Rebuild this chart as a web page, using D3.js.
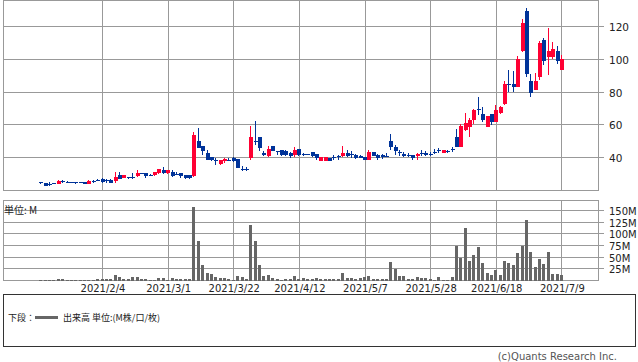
<!DOCTYPE html>
<html><head><meta charset="utf-8">
<script src="https://cdn.jsdelivr.net/npm/d3@7"></script>
<style>
body{margin:0;background:#fff;}
svg{display:block;}
text{font-family:"DejaVu Sans",Verdana,sans-serif;}
.jp{font-family:"Noto Sans CJK JP","DejaVu Sans",sans-serif;}
</style>
</head><body>
<svg id="c" width="638" height="362"></svg>
<script>
const dates = [
"2021/1/15","2021/1/18","2021/1/19","2021/1/20","2021/1/21","2021/1/22","2021/1/25","2021/1/26","2021/1/27","2021/1/28","2021/1/29",
"2021/2/1","2021/2/2","2021/2/3","2021/2/4","2021/2/5","2021/2/8","2021/2/9","2021/2/10","2021/2/12","2021/2/15","2021/2/16","2021/2/17","2021/2/18","2021/2/19","2021/2/22","2021/2/24","2021/2/25","2021/2/26",
"2021/3/1","2021/3/2","2021/3/3","2021/3/4","2021/3/5","2021/3/8","2021/3/9","2021/3/10","2021/3/11","2021/3/12","2021/3/15","2021/3/16","2021/3/17","2021/3/18","2021/3/19","2021/3/22","2021/3/23","2021/3/24","2021/3/25","2021/3/26","2021/3/29","2021/3/30","2021/3/31",
"2021/4/1","2021/4/2","2021/4/5","2021/4/6","2021/4/7","2021/4/8","2021/4/9","2021/4/12","2021/4/13","2021/4/14","2021/4/15","2021/4/16","2021/4/19","2021/4/20","2021/4/21","2021/4/22","2021/4/23","2021/4/26","2021/4/27","2021/4/28","2021/4/30",
"2021/5/6","2021/5/7","2021/5/10","2021/5/11","2021/5/12","2021/5/13","2021/5/14","2021/5/17","2021/5/18","2021/5/19","2021/5/20","2021/5/21","2021/5/24","2021/5/25","2021/5/26","2021/5/27","2021/5/28","2021/5/31",
"2021/6/1","2021/6/2","2021/6/3","2021/6/4","2021/6/7","2021/6/8","2021/6/9","2021/6/10","2021/6/11","2021/6/14","2021/6/15","2021/6/16","2021/6/17","2021/6/18","2021/6/21","2021/6/22","2021/6/23","2021/6/24","2021/6/25","2021/6/28","2021/6/29","2021/6/30",
"2021/7/1","2021/7/2","2021/7/5","2021/7/6","2021/7/7","2021/7/8","2021/7/9"];

const open = [24.9,24.4,23.6,24.2,24.0,25.5,25.0,24.9,24.8,24.8,24.8,
24.0,25.6,26.3,27.1,26.1,26.5,25.4,29.1,27.5,27.9,28.0,28.5,30.3,30.3,29.2,29.3,30.3,32.1,
30.3,31.3,30.0,30.3,29.1,29.1,28.5,49.8,46.9,43.0,40.1,38.4,36.3,37.6,38.6,40.0,39.0,32.9,32.9,39.6,49.9,52.3,43.0,
41.2,46.9,44.1,44.4,44.0,43.0,41.4,45.1,42.2,42.2,43.2,42.0,38.0,38.0,39.6,40.2,41.0,41.0,43.0,41.9,41.8,
41.2,40.4,38.6,43.2,41.8,41.4,41.0,49.9,46.5,43.2,42.0,41.6,41.4,41.0,43.0,43.0,42.4,43.4,
44.6,42.8,44.2,45.0,52.5,46.5,57.0,58.6,62.6,69.7,66.3,58.6,66.3,61.6,67.1,72.9,84.8,84.6,83.0,104.8,129.7,86.7,
81.4,89.1,111.5,101.4,101.4,104.8,93.7];
const high = [25.0,24.6,25.0,24.4,26.2,26.1,25.8,25.0,25.0,25.1,24.9,
26.1,26.0,27.1,27.3,27.0,26.7,30.9,30.9,29.3,28.3,30.3,32.1,30.7,30.5,29.9,31.3,32.9,33.9,
32.3,32.1,31.1,30.5,29.3,29.3,55.6,58.0,47.3,44.8,40.3,40.0,38.4,39.8,39.4,40.2,39.2,35.0,33.9,59.0,62.0,52.5,43.8,
46.9,47.2,44.2,44.6,44.4,43.2,46.3,45.3,42.6,42.4,43.4,42.2,40.6,40.6,39.8,41.4,41.4,46.9,44.6,43.8,42.0,
41.6,40.6,44.6,43.4,42.0,42.0,42.6,54.1,47.9,44.6,43.2,42.6,41.6,43.0,44.6,44.2,43.6,45.0,
46.0,44.6,44.8,46.2,57.2,60.6,67.1,64.0,69.5,77.2,70.9,65.3,66.5,72.1,71.7,86.7,93.7,92.7,101.8,124.4,131.5,91.1,
91.5,111.3,112.9,119.0,110.5,108.1,102.4];
const low = [24.0,22.5,22.6,23.6,23.6,24.4,24.5,24.4,23.8,24.2,23.8,
23.6,24.6,25.6,24.7,24.5,24.2,24.4,26.7,27.3,26.7,26.7,28.3,29.9,27.5,28.7,28.5,29.7,30.1,
30.1,28.3,29.7,27.5,26.7,27.1,28.3,45.5,41.4,38.2,37.6,35.4,35.4,36.8,37.6,37.4,33.4,31.7,31.7,38.4,47.9,44.0,41.2,
40.4,43.8,41.4,41.2,41.2,39.4,40.4,41.2,41.0,41.4,40.6,38.4,37.8,37.6,37.6,38.6,38.4,40.4,40.4,40.0,39.2,
39.6,38.2,38.2,40.8,38.6,39.2,40.2,44.4,41.4,41.0,40.2,40.2,38.6,38.6,41.0,41.2,41.0,42.2,
43.0,42.6,43.0,43.4,46.3,46.3,56.4,52.5,60.2,65.7,61.4,58.4,60.0,61.4,66.5,72.1,80.2,80.2,82.8,104.6,89.1,77.0,
81.2,87.1,96.4,90.3,100.4,96.8,93.5];
const close = [24.2,22.7,23.5,23.8,25.8,25.3,24.9,24.8,24.7,24.6,23.9,
25.9,25.4,26.2,24.9,26.0,24.4,27.9,27.1,29.1,27.8,27.9,30.3,30.2,28.5,29.1,30.9,32.7,30.3,
32.1,28.5,29.9,28.5,27.3,27.3,54.0,45.8,43.9,38.4,38.2,38.2,38.2,38.8,38.4,37.6,33.7,32.8,32.8,52.3,49.5,45.9,41.4,
45.1,44.0,43.8,41.4,41.4,40.8,44.8,41.8,42.0,42.0,41.0,39.4,40.4,40.4,38.0,40.0,40.8,43.0,41.0,41.7,39.8,
40.0,38.6,43.2,41.0,39.8,40.2,40.8,46.5,44.0,42.8,41.0,41.2,39.8,42.0,42.6,41.4,42.2,43.2,
44.4,44.4,44.0,44.8,46.5,59.2,61.0,63.0,69.3,68.8,62.6,65.1,61.6,69.3,70.9,84.6,84.4,83.0,100.4,122.4,91.1,79.6,
86.7,109.7,98.8,104.8,106.5,98.8,100.4];
const volume = [1.0,0.8,0.8,0.8,3.6,3.6,2.1,1.0,0.8,1.0,1.2,
1.2,1.0,3.6,3.6,3.6,3.6,12.2,7.9,3.6,3.6,7.9,7.9,3.6,3.6,1.4,1.4,5.7,5.7,
1.4,5.7,3.6,3.6,3.6,3.6,158,85,33.6,16.5,14.4,7.9,5.0,5.7,3.6,2.1,10,7.9,3.6,120,85.7,34,8.6,
11.4,5.7,3.6,2.0,3.6,3.6,8.6,3.6,5.0,3.6,3.6,5.0,3.6,3.6,3.6,3.6,3.6,16.5,5.7,5.7,3.6,
5.7,7.2,8.6,3.6,3.6,3.6,3.6,40,24.4,10,8.6,3.6,3.6,7.9,5.0,5.0,4.0,1.5,
7.9,1.5,1.5,7.9,75,49,111.5,42,55,70.8,36.5,16.5,10.8,22.9,12.2,42,38,34,59,74,130,61,
29,46,36,61,14,14,12];

const xTickLabels = ["2021/2/4","2021/3/1","2021/3/22","2021/4/12","2021/5/7","2021/5/28","2021/6/18","2021/7/9"];
const priceTicks = [40,60,80,100,120];
const volumeTicks = [25,50,75,100,125,150];

const RED = "#ff0033", BLUE = "#003399", GRID = "#999999", VOL = "#666666", TXT = "#222222";

const svg = d3.select("#c");
const L = 3.5, R = 598.5, PT = 0.5, PB = 190.5, VT = 200.5, VB = 280.5;

const xs = d3.scaleLinear().domain([-8.63, 127.37]).range([L, R]);
const yp = d3.scaleLinear().domain([20, 136]).range([190.25, 0.3]);
const yv = d3.scaleLinear().domain([0, 150]).range([VB, 210.5]);
const snap = v => Math.floor(v) + 0.5;

const data = dates.map((d, i) => ({i, d, o: open[i], h: high[i], l: low[i], c: close[i], v: volume[i]}));
const tickIdx = xTickLabels.map(t => dates.indexOf(t));

// grids
const grid = svg.append("g").attr("stroke", GRID).attr("stroke-width", 1).attr("fill", "none");
grid.selectAll(".hp").data(priceTicks).join("line")
  .attr("x1", L).attr("x2", R + 5.5).attr("y1", d => snap(yp(d))).attr("y2", d => snap(yp(d)));
grid.selectAll(".hv").data(volumeTicks).join("line")
  .attr("x1", L).attr("x2", R + 5.5).attr("y1", d => snap(yv(d))).attr("y2", d => snap(yv(d)));
tickIdx.forEach(i => {
  const x = snap(xs(i));
  grid.append("line").attr("x1", x).attr("x2", x).attr("y1", PT).attr("y2", PB);
  grid.append("line").attr("x1", x).attr("x2", x).attr("y1", VT).attr("y2", VB);
});
grid.append("rect").attr("x", L).attr("y", PT).attr("width", R - L).attr("height", PB - PT);
grid.append("rect").attr("x", L).attr("y", VT).attr("width", R - L).attr("height", VB - VT);

// candles
const cg = svg.append("g").attr("shape-rendering", "crispEdges");
const col = d => d.c > d.o ? RED : BLUE;
cg.selectAll(".wick").data(data).join("rect")
  .attr("x", d => Math.round(xs(d.i)) - 1).attr("width", 1)
  .attr("y", d => yp(d.h)).attr("height", d => Math.max(1, yp(d.l) - yp(d.h)))
  .attr("fill", col);
cg.selectAll(".body").data(data).join("rect")
  .attr("x", d => Math.round(xs(d.i)) - 2).attr("width", 4)
  .attr("y", d => yp(Math.max(d.o, d.c)))
  .attr("height", d => Math.max(1, Math.abs(yp(d.o) - yp(d.c))))
  .attr("fill", col);

// volume
cg.selectAll(".vol").data(data).join("rect")
  .attr("x", d => Math.round(xs(d.i)) - 2).attr("width", 3)
  .attr("y", d => yv(d.v)).attr("height", d => Math.max(0.5, VB - yv(d.v)))
  .attr("fill", VOL);

// labels
svg.append("g").selectAll("text").data(priceTicks).join("text")
  .attr("x", 609).attr("y", d => snap(yp(d)) + 4).attr("font-size", 10.5).attr("fill", TXT)
  .text(d => d);
svg.append("g").selectAll("text").data(volumeTicks).join("text")
  .attr("x", 609).attr("y", d => snap(yv(d)) + 4).attr("font-size", 10).attr("fill", TXT)
  .text(d => d + "M");
svg.append("g").selectAll("text").data(xTickLabels).join("text")
  .attr("x", (d, k) => xs(tickIdx[k]) + 0.5).attr("y", 291.5).attr("text-anchor", "middle")
  .attr("font-size", 10).attr("fill", TXT).text(d => d);

svg.append("text").attr("class", "jp").attr("x", 4).attr("y", 214).attr("font-size", 10).attr("fill", TXT).text("単位: M");

// legend box
svg.append("rect").attr("x", 3.5).attr("y", 294.5).attr("width", 632).attr("height", 52)
  .attr("fill", "none").attr("stroke", "#333").attr("stroke-width", 1);
svg.append("text").attr("class", "jp").attr("x", 8).attr("y", 321).attr("font-size", 9).attr("fill", TXT).text("下段：");
svg.append("line").attr("x1", 35).attr("x2", 58).attr("y1", 317.5).attr("y2", 317.5).attr("stroke", VOL).attr("stroke-width", 3);
svg.append("text").attr("class", "jp").attr("x", 63).attr("y", 321).attr("font-size", 9).attr("fill", TXT).text("出来高 単位:(M株/口/枚)");

svg.append("text").attr("x", 617).attr("y", 360).attr("text-anchor", "end").attr("font-size", 10).attr("fill", "#555").text("(c)Quants Research Inc.");
</script>
</body></html>
